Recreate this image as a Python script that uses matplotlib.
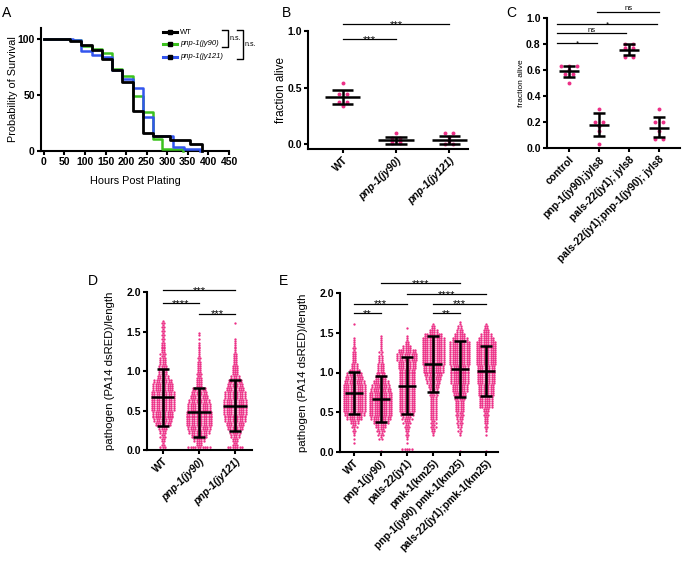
import numpy as np
import matplotlib
matplotlib.use("Agg")
import matplotlib.pyplot as plt
from matplotlib.lines import Line2D

plt.rcParams['font.family'] = ['Liberation Sans', 'DejaVu Sans']
plt.rcParams['font.weight'] = 'bold'

W, H = 683, 565
PINK = '#ec2f86'
GREEN = '#3cc21e'
BLUE = '#3355ee'

# ---- A: survival curves (hours, % alive), step after each time
wt_t = [0, 64, 90, 117, 141, 165, 190, 216, 242, 266, 306, 354, 385]
wt_s = [100, 98, 95, 90, 82, 72, 62, 36, 16, 13, 10, 6, 0]
jy90_t = [0, 64, 90, 117, 141, 165, 190, 216, 242, 266, 287, 338]
jy90_s = [100, 99, 94, 91, 88, 73, 67, 49, 35, 11, 2, 0]
jy121_t = [0, 70, 90, 117, 141, 165, 190, 216, 242, 266, 314, 340, 380]
jy121_s = [100, 99, 89, 86, 84, 72, 64, 56, 30, 13, 4, 2, 0]

# ---- B: fraction alive
b_labels = ['WT', 'pnp-1(jy90)', 'pnp-1(jy121)']
b_italic = [False, True, True]
b_vals = [[0.54, 0.44, 0.44, 0.375, 0.375, 0.335],
          [0.10, 0.05, 0.05, 0.03, 0.03, 0.01, 0.01],
          [0.10, 0.10, 0.06, 0.03, 0.0, 0.0]]
b_mean = [0.42, 0.036, 0.036]
b_lo = [0.357, 0.003, 0.0]
b_hi = [0.48, 0.066, 0.075]
b_sig = [(0, 1, 0.93, '***'), (0, 2, 1.06, '***')]

# ---- C: fraction alive
c_labels = ['control', 'pnp-1(jy90);jyIs8', 'pals-22(jy1); jyIs8',
            'pals-22(jy1);pnp-1(jy90); jyIs8']
c_vals = [[0.63, 0.63, 0.63, 0.60, 0.57, 0.57, 0.50],
          [0.30, 0.20, 0.20, 0.17, 0.13, 0.03],
          [0.80, 0.80, 0.77, 0.77, 0.70, 0.70],
          [0.30, 0.20, 0.20, 0.13, 0.07, 0.07]]
c_mean = [0.597, 0.18, 0.76, 0.16]
c_lo = [0.55, 0.097, 0.72, 0.085]
c_hi = [0.635, 0.27, 0.80, 0.243]
c_sig = [(-0.4, 0.95, 0.81, '*'), (-0.4, 1.9, 0.885, 'ns'), (-0.4, 2.95, 0.96, '*'),
         (0.95, 3.0, 1.05, 'ns')]

# ---- D / E: pathogen per length, counts of worms per 0.05 bin (0.00 .. 1.60)
BIN = 0.05
d_labels = ['WT', 'pnp-1(jy90)', 'pnp-1(jy121)']
d_italic = [False, True, True]
d_counts = [
    [6, 3, 4, 5, 6, 8, 14, 16, 18, 18, 20, 20, 20, 20, 20, 18, 18, 16, 10, 8, 8, 7, 6, 5, 5, 4, 4, 3, 3, 3, 3, 3, 3],
    [20, 6, 10, 14, 18, 20, 22, 22, 22, 22, 20, 20, 18, 16, 14, 12, 6, 6, 5, 5, 4, 4, 3, 3, 2, 2, 2, 1, 1, 2, 0, 0, 0],
    [14, 5, 6, 8, 10, 14, 16, 18, 18, 20, 20, 20, 20, 18, 18, 16, 14, 12, 8, 6, 6, 5, 4, 4, 3, 2, 2, 2, 1, 0, 0, 0, 1],
]
d_mean = [0.67, 0.48, 0.56]
d_lo = [0.31, 0.17, 0.24]
d_hi = [1.03, 0.78, 0.89]
d_sig = [(0, 2, 2.03, '***'), (0, 1, 1.86, '****'), (1, 2, 1.73, '***')]

e_labels = ['WT', 'pnp-1(jy90)', 'pals-22(jy1)', 'pmk-1(km25)',
            'pnp-1(jy90) pmk-1(km25)', 'pals-22(jy1);pmk-1(km25)']
e_counts = [
    [0, 0, 1, 1, 2, 3, 5, 8, 14, 18, 20, 20, 20, 20, 20, 20, 20, 18, 16, 14, 10, 6, 5, 4, 4, 3, 3, 2, 2, 0, 0, 0, 1],
    [1, 0, 0, 3, 5, 7, 10, 14, 18, 20, 20, 20, 20, 20, 20, 18, 16, 14, 10, 8, 6, 6, 5, 4, 3, 3, 2, 2, 2, 1, 0, 0, 0],
    [10, 0, 1, 2, 3, 4, 5, 7, 9, 12, 14, 14, 14, 14, 14, 14, 14, 14, 14, 14, 14, 16, 16, 18, 18, 16, 8, 4, 2, 1, 0, 1, 0],
    [0, 0, 0, 0, 2, 4, 5, 5, 6, 6, 6, 6, 6, 6, 7, 8, 10, 12, 14, 16, 18, 18, 20, 20, 20, 20, 20, 20, 20, 16, 8, 4, 1],
    [1, 0, 0, 0, 2, 3, 4, 5, 6, 7, 8, 8, 8, 10, 12, 14, 14, 16, 16, 16, 16, 16, 18, 18, 18, 18, 18, 18, 14, 10, 6, 4, 2],
    [1, 0, 0, 0, 1, 2, 3, 4, 4, 5, 6, 12, 12, 12, 14, 14, 14, 16, 16, 16, 16, 16, 18, 18, 18, 18, 18, 18, 14, 10, 6, 4, 1],
]
e_mean = [0.74, 0.66, 0.83, 1.11, 1.04, 1.02]
e_lo = [0.47, 0.37, 0.47, 0.76, 0.69, 0.70]
e_hi = [1.01, 0.95, 1.19, 1.46, 1.40, 1.34]
e_sig = [(1, 4, 2.13, '****'), (2, 5, 1.99, '****'), (0, 2, 1.87, '***'),
         (3, 5, 1.87, '***'), (0, 1, 1.75, '**'), (3, 4, 1.75, '**')]

fig = plt.figure(figsize=(W / 100, H / 100), dpi=100)

TICK = 7.5
CAT = 7.5


def axes_px(left, top, right, bottom):
    return fig.add_axes([left / W, 1 - bottom / H, (right - left) / W, (bottom - top) / H])


def style(ax):
    for s in ['top', 'right']:
        ax.spines[s].set_visible(False)
    for s in ['left', 'bottom']:
        ax.spines[s].set_linewidth(1.5)
    ax.tick_params(width=1.5, length=3, labelsize=TICK, pad=1.5)


def cat_labels(ax, labels, italic=None, size=CAT):
    ax.set_xticks(range(len(labels)))
    ax.set_xticklabels(labels, rotation=45, ha='right', rotation_mode='anchor', fontsize=size)
    if italic:
        for lab, it in zip(ax.get_xticklabels(), italic):
            if it:
                lab.set_style('italic')


def mean_sd(ax, x, m, lo, hi, half=0.33, cap=0.2, lw=1.8):
    kw = dict(color='k', lw=lw, solid_capstyle='butt', zorder=4)
    ax.plot([x - half, x + half], [m, m], **kw)
    ax.plot([x, x], [lo, hi], **kw)
    ax.plot([x - cap, x + cap], [lo, lo], **kw)
    ax.plot([x - cap, x + cap], [hi, hi], **kw)


def sig(ax, i, j, y, text, size=8):
    ax.plot([i, j], [y, y], color='k', lw=0.9, clip_on=False)
    if '*' in text:
        dy = -0.33 * size
    else:
        dy = 1.0
    ax.annotate(text, ((i + j) / 2, y), xytext=(0, dy), textcoords='offset points',
                ha='center', va='baseline', fontsize=size, fontweight='normal',
                annotation_clip=False)


def spread(vals, step):
    # put equal values side by side
    vals = np.asarray(vals, float)
    offs = np.zeros(len(vals))
    for v in np.unique(vals):
        idx = np.where(vals == v)[0]
        offs[idx] = (np.arange(len(idx)) - (len(idx) - 1) / 2) * step
    return offs


def dot_column(ax, x0, counts, dx):
    xs, ys = [], []
    for k, n in enumerate(counts):
        for r, m in enumerate([n - n // 2, n // 2]):
            if m == 0:
                continue
            y = k * BIN + (r + 0.5) * BIN / 2
            xs.extend(x0 + (np.arange(m) - (m - 1) / 2) * dx)
            ys.extend([y] * m)
    ax.scatter(xs, ys, s=2.8, c=PINK, linewidths=0, zorder=2, clip_on=False)


def panel_letter(x, y, s):
    fig.text(x / W, 1 - y / H, s, fontsize=10, fontweight='normal', va='top', ha='left')


# ---------------- A
axA = axes_px(41, 28, 229, 151)
style(axA)
axA.step(jy90_t, jy90_s, where='post', color=GREEN, lw=1.8, zorder=3, clip_on=False)
axA.step(jy121_t, jy121_s, where='post', color=BLUE, lw=1.8, zorder=3, clip_on=False)
axA.step(wt_t, wt_s, where='post', color='k', lw=2.0, zorder=4, clip_on=False)
axA.set_xlim(-7, 450)
axA.set_ylim(0, 110)
axA.set_xticks(range(0, 451, 50))
axA.set_yticks([0, 50, 100])
axA.set_xlabel('Hours Post Plating', fontsize=7.8, labelpad=6)
axA.set_ylabel('Probability of Survival', fontsize=7.8)
axA.yaxis.set_label_coords(-0.122, 0.5)

# legend drawn by hand
leg = [('WT', 'k', 32, 'normal'), ('pnp-1(jy90)', GREEN, 43.5, 'italic'),
       ('pnp-1(jy121)', BLUE, 57, 'italic')]
for name, col, yy, st in leg:
    fig.add_artist(Line2D([163 / W, 177 / W], [1 - yy / H] * 2, color=col, lw=2.2))
    fig.add_artist(Line2D([170 / W], [1 - yy / H], marker='s', ms=2.2, color='k', lw=0))
    fig.text(180 / W, 1 - yy / H, name, fontsize=5.5, fontweight='normal', style=st,
             va='center', ha='left')
for x_end, y0, y1, xt in [(228, 30, 46.5, 230), (243, 30, 59, 245)]:
    fig.add_artist(Line2D([(x_end - 6) / W, x_end / W, x_end / W, (x_end - 6) / W],
                          [1 - y0 / H, 1 - y0 / H, 1 - y1 / H, 1 - y1 / H], color='k', lw=1.0))
    fig.text(xt / W, 1 - (y0 + y1) / 2 / H, 'n.s.', fontsize=5, fontweight='normal',
             va='center', ha='left')

# ---------------- B
axB = axes_px(308, 31, 468, 149)
style(axB)
for i, v in enumerate(b_vals):
    axB.scatter(i + spread(v, 0.15), v, s=8, c=PINK, linewidths=0, zorder=3, clip_on=False)
    mean_sd(axB, i, b_mean[i], b_lo[i], b_hi[i])
for i, j, y, t in b_sig:
    sig(axB, i, j, y, t)
axB.set_xlim(-0.65, 2.35)
axB.set_ylim(-0.044, 1.0)
axB.set_yticks([0.0, 0.5, 1.0])
axB.set_yticklabels(['0.0', '0.5', '1.0'])
cat_labels(axB, b_labels, b_italic)
axB.set_ylabel('fraction alive', fontsize=8.5)
axB.yaxis.set_label_coords(-0.131, 0.5)

# ---------------- C
axC = axes_px(547, 18.3, 680, 148.3)
style(axC)
for i, v in enumerate(c_vals):
    axC.scatter(i + spread(v, 0.26), v, s=8, c=PINK, linewidths=0, zorder=3, clip_on=False)
    mean_sd(axC, i, c_mean[i], c_lo[i], c_hi[i], half=0.32, cap=0.21)
for i, j, y, t in c_sig:
    sig(axC, i, j, y, t, size=6 if t == '*' else 5.5)
axC.set_xlim(-0.73, 3.7)
axC.set_ylim(0, 1.0)
axC.set_yticks(np.arange(0, 1.01, 0.2))
axC.set_yticklabels(['0.0', '0.2', '0.4', '0.6', '0.8', '1.0'])
cat_labels(axC, c_labels)
axC.set_ylabel('fraction alive', fontsize=6)
axC.yaxis.set_label_coords(-0.165, 0.5)

# ---------------- D
axD = axes_px(147, 292.3, 252, 450)
style(axD)
for i, cnt in enumerate(d_counts):
    dot_column(axD, i, cnt, 2.4 / 36)
    mean_sd(axD, i, d_mean[i], d_lo[i], d_hi[i], half=0.32, cap=0.17)
for i, j, y, t in d_sig:
    sig(axD, i, j, y, t)
axD.set_xlim(-0.44, 2.47)
axD.set_ylim(0, 2.0)
axD.set_yticks(np.arange(0, 2.01, 0.5))
axD.set_yticklabels(['0.0', '0.5', '1.0', '1.5', '2.0'])
cat_labels(axD, d_labels, d_italic)
axD.set_ylabel('pathogen (PA14 dsRED)/length', fontsize=8.2)
axD.yaxis.set_label_coords(-0.305, 0.5)

# ---------------- E
axE = axes_px(340, 293.3, 498.3, 451.7)
style(axE)
for i, cnt in enumerate(e_counts):
    dot_column(axE, i, cnt, 2.35 / 26.3)
    mean_sd(axE, i, e_mean[i], e_lo[i], e_hi[i], half=0.34, cap=0.23)
for i, j, y, t in e_sig:
    sig(axE, i, j, y, t)
axE.set_xlim(-0.54, 5.47)
axE.set_ylim(0, 2.0)
axE.set_yticks(np.arange(0, 2.01, 0.5))
axE.set_yticklabels(['0.0', '0.5', '1.0', '1.5', '2.0'])
cat_labels(axE, e_labels)
axE.set_ylabel('pathogen (PA14 dsRED)/length', fontsize=8.2)
axE.yaxis.set_label_coords(-0.202, 0.5)

panel_letter(2, 6, 'A')
panel_letter(282, 6, 'B')
panel_letter(506, 6, 'C')
panel_letter(88, 274, 'D')
panel_letter(279, 274, 'E')

fig.savefig('out.png', dpi=100)
